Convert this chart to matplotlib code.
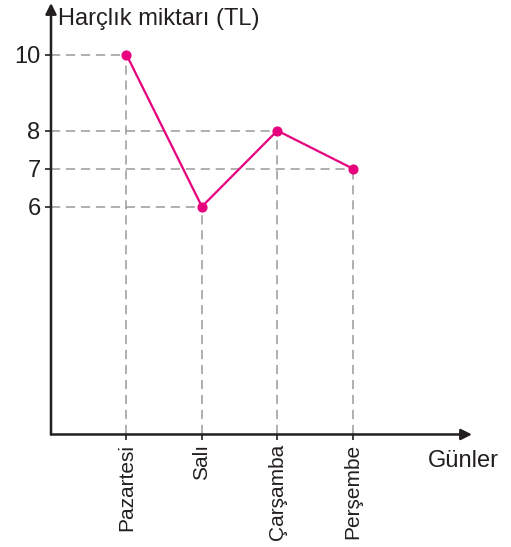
import matplotlib
matplotlib.use("Agg")
import matplotlib.pyplot as plt

# Daily pocket money (TL)
days = ["Pazartesi", "Salı", "Çarşamba", "Perşembe"]
amounts = [10, 6, 8, 7]
y_ticks = [6, 7, 8, 10]

y_label = "Harçlık miktarı (TL)"
x_label = "Günler"

AXIS_COLOR = "#231f20"
LINE_COLOR = "#e6007e"
GUIDE_COLOR = "#9a9a9a"

plt.rcParams["font.family"] = ["Liberation Sans", "DejaVu Sans"]

fig = plt.figure(figsize=(5.11, 5.47), dpi=100)
ax = fig.add_axes([0.0998, 0.2057, 0.8239, 0.7888])

positions = list(range(1, len(days) + 1))
ax.set_xlim(0, 5.58)
ax.set_ylim(0, 11.36)

for s in ax.spines.values():
    s.set_visible(False)

# axes with arrowheads
arrow_kw = dict(arrowstyle="-|>", lw=1.8, color=AXIS_COLOR,
                mutation_scale=16, shrinkA=0, shrinkB=0)
ax.annotate("", xy=(5.58, 0), xytext=(0, 0), arrowprops=arrow_kw,
            annotation_clip=False)
ax.annotate("", xy=(0, 11.36), xytext=(0, 0), arrowprops=arrow_kw,
            annotation_clip=False)

# dashed guides from each point to both axes
for x, y in zip(positions, amounts):
    ax.plot([0, x], [y, y], color=GUIDE_COLOR, lw=1.1,
            dashes=(6, 3.8), zorder=1)
    ax.plot([x, x], [0, y], color=GUIDE_COLOR, lw=1.1,
            dashes=(6, 3.8), zorder=1)

ax.plot(positions, amounts, color=LINE_COLOR, lw=1.6, marker="o",
        markersize=6.3, zorder=3)

ax.set_xticks(positions)
ax.set_xticklabels(days, rotation=90, fontsize=15)
ax.set_yticks(y_ticks)
ax.set_yticklabels([str(v) for v in y_ticks], fontsize=17)
ax.tick_params(axis="x", direction="out", length=4, width=1.2,
               color=AXIS_COLOR, pad=2.5)
ax.tick_params(axis="y", direction="out", length=4.5, width=1.2,
               color=AXIS_COLOR, pad=3)
for lab in ax.get_xticklabels() + ax.get_yticklabels():
    lab.set_color(AXIS_COLOR)

fig.text(58 / 511, 1 - 25 / 547, y_label, fontsize=17, color=AXIS_COLOR,
         ha="left", va="baseline")
fig.text(428 / 511, 1 - 467 / 547, x_label, fontsize=17, color=AXIS_COLOR,
         ha="left", va="baseline")

fig.savefig("out.png", dpi=100)
